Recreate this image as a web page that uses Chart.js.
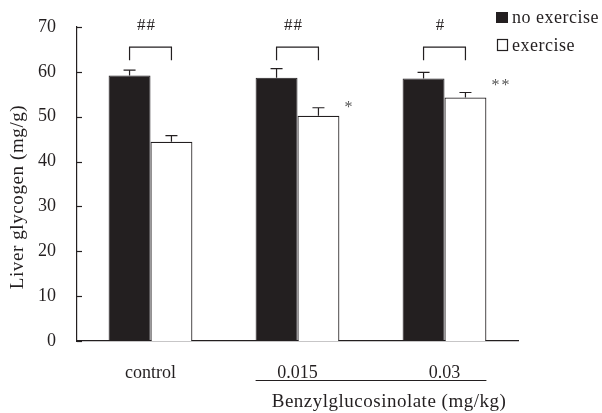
<!DOCTYPE html>
<html>
<head>
<meta charset="utf-8">
<script src="https://cdn.jsdelivr.net/npm/chart.js@4"></script>
<style>
  body { margin: 0; background: #fff; }
  canvas { display: block; }
</style>
</head>
<body>
<canvas id="chart" width="602" height="413"></canvas>
<script>
const groups = ["control", "0.015", "0.03"];
const noExercise = [59.2, 58.7, 58.5];
const noExerciseErr = [1.2, 2.0, 1.4];
const exercise = [44.4, 50.2, 54.3];
const exerciseErr = [1.4, 1.8, 1.1];
const pairMarks = ["##", "##", "#"];
const exerciseMarks = ["", "*", "**"];
const exerciseMarkLevel = [null, 52.6, 57.5];
const yTicks = [0, 10, 20, 30, 40, 50, 60, 70];

const FONT = "'Liberation Serif', 'Times New Roman', serif";
const INK = "#231f20";

const decorations = {
  id: "decorations",
  afterDatasetsDraw(chart) {
    const ctx = chart.ctx;
    const y = chart.scales.y;
    const area = chart.chartArea;
    const black = chart.getDatasetMeta(0).data;
    const white = chart.getDatasetMeta(1).data;

    ctx.save();
    ctx.strokeStyle = INK;
    ctx.fillStyle = INK;
    ctx.lineWidth = 1.2;

    // inward y ticks
    yTicks.forEach((v) => {
      const py = Math.round(y.getPixelForValue(v)) + 0.5;
      ctx.beginPath();
      ctx.moveTo(area.left, py);
      ctx.lineTo(area.left + 5, py);
      ctx.stroke();
    });

    // error bars (upper only)
    function errBar(bar, value, err) {
      const top = y.getPixelForValue(value + err);
      ctx.beginPath();
      ctx.moveTo(bar.x, bar.y);
      ctx.lineTo(bar.x, top);
      ctx.moveTo(bar.x - 6, top);
      ctx.lineTo(bar.x + 6, top);
      ctx.stroke();
    }
    groups.forEach((g, i) => {
      errBar(black[i], noExercise[i], noExerciseErr[i]);
      errBar(white[i], exercise[i], exerciseErr[i]);
    });

    // brackets and marks
    const bTop = y.getPixelForValue(65.5);
    const bLeg = y.getPixelForValue(62.6);
    ctx.font = "17px " + FONT;
    ctx.letterSpacing = "1px";
    ctx.textAlign = "center";
    ctx.textBaseline = "middle";
    groups.forEach((g, i) => {
      const x1 = black[i].x;
      const x2 = white[i].x;
      ctx.beginPath();
      ctx.moveTo(x1, bLeg);
      ctx.lineTo(x1, bTop);
      ctx.lineTo(x2, bTop);
      ctx.lineTo(x2, bLeg);
      ctx.stroke();
      ctx.fillText(pairMarks[i], (x1 + x2) / 2 - 4, y.getPixelForValue(70) - 1);
    });

    // asterisks next to exercise bars
    ctx.fillStyle = "#555";
    ctx.font = "16px " + FONT;
    ctx.letterSpacing = "2px";
    ctx.textAlign = "left";
    groups.forEach((g, i) => {
      if (!exerciseMarks[i]) return;
      const bar = white[i];
      const right = bar.x + bar.width / 2;
      ctx.fillText(exerciseMarks[i], right + 5, y.getPixelForValue(exerciseMarkLevel[i]) + 3);
    });

    // legend
    ctx.fillStyle = INK;
    ctx.letterSpacing = "0.5px";
    ctx.fillRect(496, 12, 12, 11);
    ctx.lineWidth = 1.2;
    ctx.strokeRect(497.5, 39.5, 10, 11);
    ctx.font = "18px " + FONT;
    ctx.textBaseline = "alphabetic";
    ctx.fillText("no exercise", 512, 23);
    ctx.fillText("exercise", 512, 51);

    // dose group line and label
    const lx1 = black[1].x - black[1].width / 2;
    const lx2 = white[2].x + white[2].width / 2;
    ctx.lineWidth = 1.2;
    ctx.beginPath();
    ctx.moveTo(lx1, 380.5);
    ctx.lineTo(lx2, 380.5);
    ctx.stroke();
    ctx.textAlign = "center";
    ctx.textBaseline = "middle";
    ctx.font = "19px " + FONT;
    ctx.fillText("Benzylglucosinolate (mg/kg)", (lx1 + lx2) / 2 + 18, 402);

    // y axis title
    ctx.save();
    ctx.translate(18, 197);
    ctx.rotate(-Math.PI / 2);
    ctx.font = "19px " + FONT;
    ctx.letterSpacing = "0.6px";
    ctx.fillText("Liver glycogen (mg/g)", 0, 0);
    ctx.restore();

    ctx.restore();
  },
};

new Chart(document.getElementById("chart").getContext("2d"), {
  type: "bar",
  data: {
    labels: groups,
    datasets: [
      {
        label: "no exercise",
        data: noExercise,
        backgroundColor: INK,
        borderColor: INK,
        borderWidth: 1,
        categoryPercentage: 0.57,
        barPercentage: 1.0,
      },
      {
        label: "exercise",
        data: exercise,
        backgroundColor: "#ffffff",
        borderColor: INK,
        borderWidth: 1.2,
        categoryPercentage: 0.57,
        barPercentage: 1.0,
      },
    ],
  },
  options: {
    responsive: false,
    animation: false,
    layout: { padding: { top: 27, right: 84, left: 0, bottom: 0 } },
    plugins: {
      legend: { display: false },
      tooltip: { enabled: false },
    },
    scales: {
      x: {
        grid: { display: false },
        border: { display: true, color: INK, width: 1.2 },
        ticks: { color: INK, font: { family: FONT, size: 18 }, padding: 13 },
        afterFit: (scale) => { scale.height = 72; },
      },
      y: {
        min: 0,
        max: 70,
        afterBuildTicks: (scale) => { scale.ticks = yTicks.map((v) => ({ value: v })); },
        grid: { display: false },
        border: { display: true, color: INK, width: 1.2 },
        ticks: { color: INK, font: { family: FONT, size: 18 }, padding: 13 },
        afterFit: (scale) => { scale.width = 77; },
      },
    },
  },
  plugins: [decorations],
});
</script>
</body>
</html>
